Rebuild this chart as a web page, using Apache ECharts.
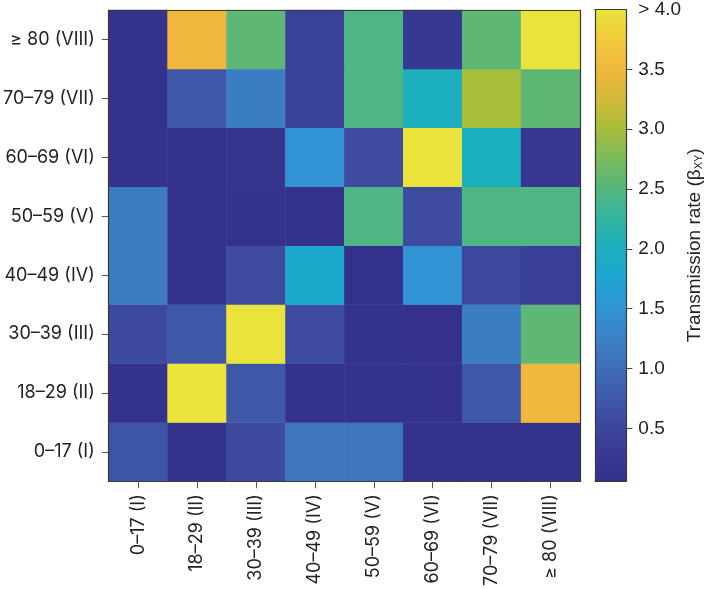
<!DOCTYPE html>
<html>
<head>
<meta charset="utf-8">
<script src="https://cdn.jsdelivr.net/npm/echarts@6/dist/echarts.min.js"></script>
<style>
html,body{margin:0;padding:0;background:#fff;}
#chart{width:705px;height:589px;}
</style>
</head>
<body>
<div id="chart"></div>
<script>
// Age groups (x = from, y = to)
const categories = ['0\u201317 (I)', '18\u201329 (II)', '30\u201339 (III)', '40\u201349 (IV)', '50\u201359 (V)', '60\u201369 (VI)', '70\u201379 (VII)', '\u2265 80 (VIII)'];

// Transmission rate per row (row label = y category), values across x categories
const row_I    = [0.68, 0.10, 0.53, 1.12, 1.12, 0.10, 0.10, 0.10];
const row_II   = [0.10, 4.00, 0.72, 0.10, 0.10, 0.10, 0.72, 3.52];
const row_III  = [0.53, 0.72, 4.00, 0.58, 0.10, 0.12, 1.20, 2.57];
const row_IV   = [1.17, 0.10, 0.58, 1.85, 0.10, 1.50, 0.52, 0.38];
const row_V    = [1.17, 0.10, 0.10, 0.10, 2.45, 0.58, 2.45, 2.45];
const row_VI   = [0.10, 0.10, 0.15, 1.50, 0.58, 4.00, 2.00, 0.22];
const row_VII  = [0.10, 0.72, 1.20, 0.45, 2.45, 2.00, 3.00, 2.57];
const row_VIII = [0.10, 3.50, 2.57, 0.42, 2.45, 0.25, 2.57, 4.00];
const rows = [row_I, row_II, row_III, row_IV, row_V, row_VI, row_VII, row_VIII];

// Colour scale
const scaleMin = 0.06;
const scaleMax = 4.0;
const colorbarTicks = [0.5, 1.0, 1.5, 2.0, 2.5, 3.0, 3.5, 4.0];
const scaleColors = ['#35308A','#383A93','#3D4A9D','#3F5EAC','#3E70BB','#3A84C8','#2F96D5','#1DA7D0',
  '#1BB0BC','#37B49E','#57B67B','#7FBA5A','#AABD3A','#D4B93A','#F0B83D','#F1CA3C','#E9E33B'];

const heatData = [];
rows.forEach((r, yi) => r.forEach((v, xi) => heatData.push([xi, yi, v])));

const gradStops = scaleColors.map((c, i) => ({offset: i / (scaleColors.length - 1), color: c}));

const chart = echarts.init(document.getElementById('chart'), null, {renderer: 'canvas'});
const axisFont = 'Inter, "Noto Sans", sans-serif';
const cbFont = '"Liberation Sans", Arial, sans-serif';
const frame = {show: true, lineStyle: {color: '#3a3a3a', width: 1.2}};

chart.setOption({
  animation: false,
  backgroundColor: '#fff',
  grid: [
    {left: 108, top: 10, width: 472, height: 472},
    {left: 595, top: 8, width: 32, height: 473}
  ],
  xAxis: [
    {type: 'category', gridIndex: 0, data: categories, z: 5,
     axisLine: frame, axisTick: {show: true, alignWithLabel: true, length: 7, lineStyle: {color: '#555'}},
     axisLabel: {rotate: 90, fontSize: 18, color: '#222', fontFamily: axisFont, margin: 13},
     splitLine: {show: false}},
    {type: 'category', gridIndex: 0, data: categories, position: 'top', z: 5,
     axisLine: frame, axisTick: {show: false}, axisLabel: {show: false}},
    {type: 'category', gridIndex: 1, data: ['cb'], z: 5,
     axisLine: frame, axisTick: {show: false}, axisLabel: {show: false}},
    {type: 'category', gridIndex: 1, data: ['cb'], position: 'top', z: 5,
     axisLine: frame, axisTick: {show: false}, axisLabel: {show: false}}
  ],
  yAxis: [
    {type: 'category', gridIndex: 0, data: categories, z: 5,
     axisLine: frame, axisTick: {show: true, alignWithLabel: true, length: 7, lineStyle: {color: '#555'}},
     axisLabel: {fontSize: 18, color: '#222', fontFamily: axisFont, margin: 14},
     splitLine: {show: false}},
    {type: 'category', gridIndex: 0, data: categories, position: 'right', z: 5,
     axisLine: frame, axisTick: {show: false}, axisLabel: {show: false}},
    {type: 'value', gridIndex: 1, min: scaleMin, max: scaleMax, position: 'left', z: 5,
     axisLine: frame, axisTick: {show: false}, axisLabel: {show: false}, splitLine: {show: false}},
    {type: 'value', gridIndex: 1, min: scaleMin, max: scaleMax, position: 'right', z: 5, startValue: scaleMin,
     axisLine: frame,
     axisTick: {show: true, length: 6, customValues: colorbarTicks.slice(0, -1), lineStyle: {color: '#444'}},
     axisLabel: {show: true, fontSize: 19, color: '#222', fontFamily: cbFont, margin: 12,
       customValues: colorbarTicks,
       formatter: v => (v >= scaleMax ? '> ' + scaleMax.toFixed(1) : v.toFixed(1))},
     splitLine: {show: false},
     name: 'Transmission rate (\u03B2{sub|XY})', nameLocation: 'middle', nameRotate: 90, nameGap: 55,
     nameTextStyle: {fontSize: 19, color: '#222', fontFamily: cbFont,
       rich: {sub: {fontSize: 11, verticalAlign: 'bottom', padding: [7, 0, 0, 0], fontFamily: cbFont, color: '#222'}}}}
  ],
  visualMap: {
    type: 'continuous', show: false, seriesIndex: 0,
    min: scaleMin, max: scaleMax, inRange: {color: scaleColors}
  },
  series: [
    {type: 'heatmap', xAxisIndex: 0, yAxisIndex: 0, data: heatData,
     itemStyle: {borderWidth: 0}, emphasis: {disabled: true}},
    {type: 'bar', xAxisIndex: 2, yAxisIndex: 3, data: [scaleMax], barWidth: '100%', silent: true,
     itemStyle: {color: new echarts.graphic.LinearGradient(0, 1, 0, 0, gradStops)}}
  ]
});
</script>
</body>
</html>
